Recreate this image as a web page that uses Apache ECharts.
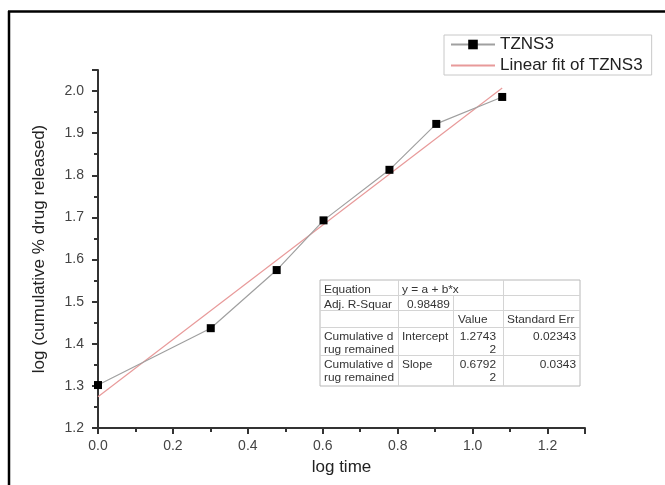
<!DOCTYPE html>
<html>
<head>
<meta charset="utf-8">
<script src="https://cdn.jsdelivr.net/npm/echarts@6/dist/echarts.min.js"></script>
<style>
  html, body { margin: 0; padding: 0; background: #ffffff; }
  #chart { width: 665px; height: 485px; }
</style>
</head>
<body>
<div id="chart"></div>
<script>
// Release kinetics: log cumulative % drug released against log time
const logTime = [0, 0.301, 0.477, 0.602, 0.778, 0.903, 1.079];
const logReleased = [1.302, 1.437, 1.575, 1.693, 1.813, 1.922, 1.986];

// Linear fit parameters (y = a + b*x)
const fitIntercept = 1.27432;
const fitSlope = 0.67922;

// Fit summary table
const tableRows = [
  ['Equation', 'y = a + b*x', '', ''],
  ['Adj. R-Squar', '0.98489', '', ''],
  ['', '', 'Value', 'Standard Err'],
  ['Cumulative d\nrug remained', 'Intercept', '1.2743\n2', '0.02343'],
  ['Cumulative d\nrug remained', 'Slope', '0.6792\n2', '0.0343']
];

const seriesName = 'TZNS3';
const fitName = 'Linear fit of TZNS3';
const FONT = '"Liberation Sans", Arial, sans-serif';

const chart = echarts.init(document.getElementById('chart'), null, { renderer: 'canvas' });

const pointData = logTime.map((x, i) => [x, logReleased[i]]);
const fitStart = logTime[0];
const fitEnd = logTime[logTime.length - 1];
const fitData = [
  [fitStart, fitIntercept + fitSlope * fitStart],
  [fitEnd, fitIntercept + fitSlope * fitEnd]
];

// Table geometry
const colX = [320, 398, 453, 503, 580];
const rowY = [280, 295, 310, 327, 355, 386];
const tableGraphics = [];
tableGraphics.push({
  type: 'rect', z: 10,
  shape: { x: colX[0], y: rowY[0], width: colX[4] - colX[0], height: rowY[5] - rowY[0] },
  style: { fill: '#ffffff', stroke: '#b8b8b8', lineWidth: 1 }
});
for (let c = 1; c < 4; c++) {
  const top = (c === 2) ? rowY[1] : rowY[0];
  tableGraphics.push({
    type: 'line', z: 11,
    shape: { x1: colX[c] + 0.5, y1: top, x2: colX[c] + 0.5, y2: rowY[5] },
    style: { stroke: '#d4d4d4', lineWidth: 1 }
  });
}
for (let r = 1; r < 5; r++) {
  tableGraphics.push({
    type: 'line', z: 11,
    shape: { x1: colX[0], y1: rowY[r] + 0.5, x2: colX[4], y2: rowY[r] + 0.5 },
    style: { stroke: '#d4d4d4', lineWidth: 1 }
  });
}
tableRows.forEach((row, r) => {
  row.forEach((txt, c) => {
    if (!txt) return;
    let x = colX[c] + 4;
    let align = 'left';
    if (r >= 3 && c === 2) { x = colX[3] - 7; align = 'right'; }
    if (r >= 3 && c === 3) { x = colX[4] - 4; align = 'right'; }
    if (r === 2 && c === 2) { x = colX[2] + 5; }
    if (r === 1 && c === 1) { x = colX[1] + 9; }
    tableGraphics.push({
      type: 'text', z: 12,
      x: x, y: rowY[r] + 3,
      scaleX: 1.08,
      style: {
        text: txt, fill: '#333333',
        font: '11px ' + FONT,
        align: align, verticalAlign: 'top', lineHeight: 13
      }
    });
  });
});

const axisCommon = {
  type: 'value',
  nameLocation: 'middle',
  nameTextStyle: { fontSize: 17, color: '#222222', fontFamily: FONT },
  axisLine: { show: true, onZero: false, lineStyle: { color: '#333333', width: 2 } },
  axisTick: { show: true, length: 6, lineStyle: { color: '#333333', width: 2 } },
  minorTick: { show: true, splitNumber: 2, length: 4, lineStyle: { color: '#333333', width: 2 } },
  splitLine: { show: false }
};

const option = {
  backgroundColor: '#ffffff',
  animation: false,
  grid: { left: 98, right: 80, top: 70, bottom: 57, containLabel: false },
  legend: {
    orient: 'vertical',
    left: 444, top: 35,
    padding: [1, 9, 1, 6],
    itemWidth: 44,
    itemHeight: 12,
    itemGap: 4,
    borderColor: '#c8c8c8',
    borderWidth: 1,
    backgroundColor: '#ffffff',
    textStyle: { fontSize: 17, color: '#222222', fontFamily: FONT },
    data: [
      { name: seriesName },
      { name: fitName, itemStyle: { opacity: 0 } }
    ]
  },
  xAxis: Object.assign({}, axisCommon, {
    min: 0, max: 1.3, interval: 0.2,
    name: 'log time',
    nameGap: 31,
    axisLabel: {
      showMaxLabel: false, margin: 11,
      fontSize: 14, color: '#444444', fontFamily: FONT,
      formatter: v => v.toFixed(1)
    }
  }),
  yAxis: Object.assign({}, axisCommon, {
    min: 1.2, max: 2.05, interval: 0.1,
    name: 'log (cumulative % drug released)',
    nameGap: 50,
    nameRotate: 90,
    axisLabel: {
      showMaxLabel: false, margin: 14,
      fontSize: 14, color: '#444444', fontFamily: FONT,
      formatter: v => v.toFixed(1)
    }
  }),
  series: [
    {
      name: fitName,
      type: 'line',
      data: fitData,
      symbol: 'none',
      lineStyle: { color: '#e89a9a', width: 1.2 },
      itemStyle: { color: '#e89a9a' },
      z: 2
    },
    {
      name: seriesName,
      type: 'line',
      data: pointData,
      symbol: 'rect',
      symbolSize: 8,
      lineStyle: { color: '#a0a0a0', width: 1.2 },
      itemStyle: { color: '#000000' },
      z: 3
    }
  ],
  graphic: [
    // outer frame (top and left edges)
    { type: 'line', shape: { x1: 8, y1: 11.5, x2: 665, y2: 11.5 }, style: { stroke: '#000000', lineWidth: 2.5 } },
    { type: 'line', shape: { x1: 9, y1: 11, x2: 9, y2: 485 }, style: { stroke: '#000000', lineWidth: 2.5 } }
  ].concat(tableGraphics)
};

chart.setOption(option);
</script>
</body>
</html>
